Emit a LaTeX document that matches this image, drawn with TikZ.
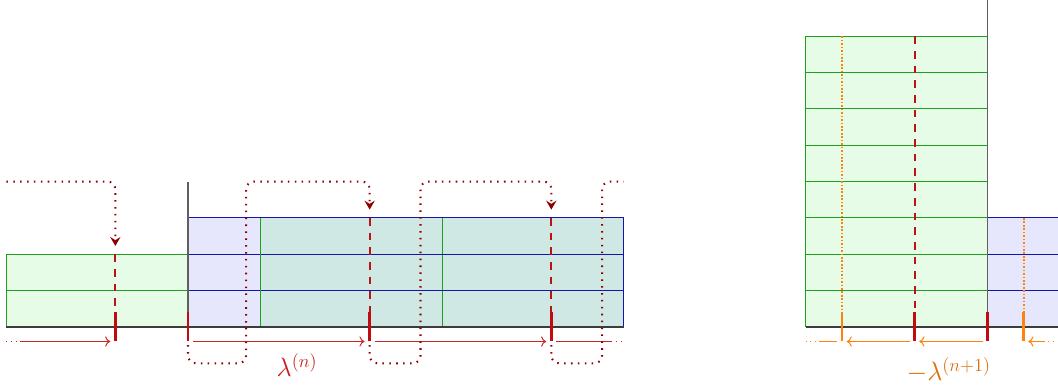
\documentclass[tikz,border=0pt]{standalone}
\usetikzlibrary{arrows.meta}
\definecolor{tickred}{RGB}{195,10,15}
\definecolor{dashred}{RGB}{185,20,20}
\definecolor{pathred}{RGB}{140,0,0}
\definecolor{arrred}{RGB}{200,40,40}
\definecolor{lblred}{RGB}{200,30,30}
\definecolor{orng}{RGB}{255,130,10}
\definecolor{gline}{RGB}{30,160,30}
\definecolor{gfill}{RGB}{230,252,230}
\definecolor{bline}{RGB}{20,20,175}
\definecolor{bfill}{RGB}{230,230,252}
\definecolor{tfill}{RGB}{207,232,228}
\definecolor{baseg}{RGB}{60,60,60}
\definecolor{vlg}{RGB}{95,95,95}
\begin{document}
\begin{tikzpicture}[x=1cm,y=1cm,
  gbox/.style={draw=gline,fill=gfill,line width=0.8pt},
  bbox/.style={draw=bline,fill=bfill,line width=0.8pt},
  gl/.style={draw=gline,line width=0.8pt},
  bl/.style={draw=bline,line width=0.8pt},
  baseline/.style={draw=baseg,line width=1.3pt},
  vline/.style={draw=vlg,line width=1.1pt},
  redtick/.style={draw=tickred,line width=2.2pt},
  orntick/.style={draw=orng,line width=2.2pt},
  reddash/.style={draw=dashred,line width=1.6pt,dash pattern=on 6pt off 5.5pt},
  orndot/.style={draw=orng,line width=1.5pt,dash pattern=on 1.3pt off 1.4pt},
  jump/.style={draw=pathred,line width=1.6pt,dash pattern=on 1.2pt off 4.2pt,rounded corners=6pt,-{Stealth[length=7pt,width=8pt,inset=2.5pt]}},
  jumpend/.style={draw=pathred,line width=1.6pt,dash pattern=on 1.2pt off 4.2pt,rounded corners=6pt},
  rarr/.style={draw=arrred,line width=0.8pt,-{To[length=4pt,width=8pt]}},
  rline/.style={draw=arrred,line width=0.8pt},
  rfade/.style={draw=arrred,line width=0.8pt,dash pattern=on 0.8pt off 3pt},
  oarr/.style={draw=orng,line width=0.8pt,-{To[length=4pt,width=8pt]}},
  oline/.style={draw=orng,line width=0.8pt},
  ofade/.style={draw=orng,line width=0.8pt,dash pattern=on 0.8pt off 3pt},
  lbl/.style={font=\fontsize{20}{24}\selectfont}]
\clip (-5.175,-1.68) rectangle (23.947,9.0);
% ---------- left picture ----------
\foreach \r in {0,1} \draw[gbox] (-5,\r) rectangle (0,\r+1);
\foreach \r in {0,1,2} \draw[bbox] (0,\r) rectangle (12,\r+1);
\fill[tfill] (2,0) rectangle (12,3);
\draw[gl] (2,0) -- (2,3) (7,0) -- (7,3);
\draw[bl] (2,3) -- (12,3) -- (12,0) (2,1) -- (12,1) (2,2) -- (12,2);
\draw[baseline] (-5,0) -- (12,0);
\draw[vline] (0,0) -- (0,4);
% positions
\coordinate (L1) at (-2,0);
\coordinate (L2) at (0,0);
\coordinate (L3) at (5,0);
\coordinate (L4) at (10,0);
\draw[reddash] (-2,2) -- (L1);
\draw[reddash] (5,3) -- (L3);
\draw[reddash] (10,3) -- (L4);
\foreach \p in {L1,L2,L3,L4} \draw[redtick] ([yshift=0.4cm]\p) -- ([yshift=-0.4cm]\p);
% arrows below
\coordinate (A0) at (-5,-0.4);
\coordinate (A0b) at (-4.62,-0.4);
\coordinate (A1) at (-2,-0.4);
\coordinate (A2) at (0,-0.4);
\coordinate (A3) at (5,-0.4);
\coordinate (A4) at (10,-0.4);
\coordinate (A5b) at (11.65,-0.4);
\coordinate (A5) at (12,-0.4);
\draw[rfade] (A0) -- (A0b);
\draw[rarr,shorten >=0.14cm] (A0b) -- (A1);
\draw[rarr,shorten <=0.14cm,shorten >=0.14cm] (A2) -- (A3);
\draw[rarr,shorten <=0.14cm,shorten >=0.14cm] (A3) -- (A4);
\draw[rline,shorten <=0.14cm] (A4) -- (A5b);
\draw[rfade] (A5b) -- (A5);
% jumping dotted paths
\draw[jump] (-5,4) -- (-2,4) -- (-2,2.23);
\draw[jump] (0,-0.5) -- (0,-1) -- (1.6,-1) -- (1.6,4) -- (5,4) -- (5,3.23);
\draw[jump] (5,-0.5) -- (5,-1) -- (6.4,-1) -- (6.4,4) -- (10,4) -- (10,3.23);
\draw[jumpend] (10,-0.5) -- (10,-1) -- (11.4,-1) -- (11.4,4) -- (12,4);
\node[lbl,text=lblred] (lamn) at (3,-1.05) {$\lambda^{(n)}$};
% ---------- right picture ----------
\begin{scope}[xshift=22cm]
\foreach \r in {0,...,7} \draw[gbox] (-5,\r) rectangle (0,\r+1);
\foreach \r in {0,1,2} \draw[bbox] (0,\r) rectangle (3,\r+1);
\draw[baseline] (-5,0) -- (3,0);
\draw[vline] (0,0) -- (0,9);
\coordinate (R1) at (-4,0);
\coordinate (R2) at (-2,0);
\coordinate (R3) at (0,0);
\coordinate (R4) at (1,0);
\draw[orndot] (-4,8) -- (R1);
\draw[reddash] (-2,8) -- (R2);
\draw[orndot] (1,3) -- (R4);
\foreach \p in {R1,R4} \draw[orntick] ([yshift=0.4cm]\p) -- ([yshift=-0.4cm]\p);
\foreach \p in {R2,R3} \draw[redtick] ([yshift=0.4cm]\p) -- ([yshift=-0.4cm]\p);
\coordinate (B0) at (-5,-0.4);
\coordinate (B0b) at (-4.62,-0.4);
\coordinate (B1) at (-4,-0.4);
\coordinate (B2) at (-2,-0.4);
\coordinate (B3) at (0,-0.4);
\coordinate (B4) at (1,-0.4);
\coordinate (B5b) at (1.55,-0.4);
\coordinate (B5) at (2.1,-0.4);
\draw[ofade] (B0) -- (B0b);
\draw[oline,shorten >=0.13cm] (B0b) -- (B1);
\draw[oarr,shorten <=0.13cm,shorten >=0.13cm] (B2) -- (B1);
\draw[oarr,shorten <=0.13cm,shorten >=0.13cm] (B3) -- (B2);
\draw[oarr,shorten >=0.13cm] (B5b) -- (B4);
\draw[ofade] (B5) -- (B5b);
\node[lbl,text=orng!85!black] (lamn1) at (-1.06,-1.19) {$-\lambda^{(n+1)}$};
\end{scope}
\end{tikzpicture}
\end{document}
